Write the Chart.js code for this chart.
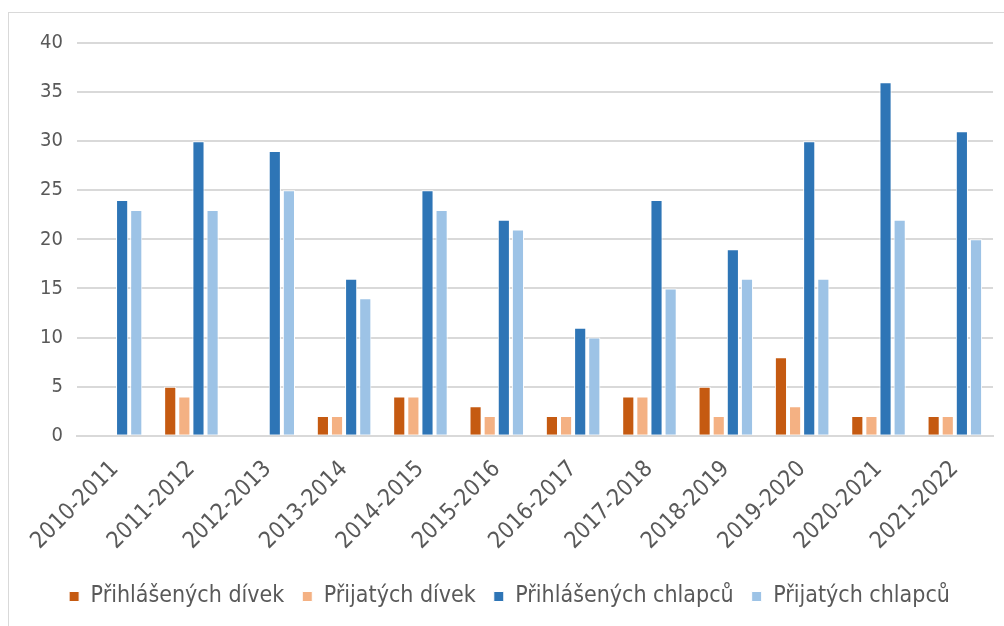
<!DOCTYPE html>
<html>
<head>
<meta charset="utf-8">
<script src="https://cdn.jsdelivr.net/npm/chart.js@4/dist/chart.umd.min.js"></script>
<style>
  html, body { margin: 0; padding: 0; background: #fff; }
  #frame {
    position: absolute; left: 8px; top: 12px; width: 1010px; height: 630px;
    border: 1px solid #d9d9d9; box-sizing: border-box;
  }
  #wrap { position: absolute; left: 8px; top: 12px; width: 996px; height: 610px; }
</style>
</head>
<body>
<div id="frame"></div>
<div id="wrap"><canvas id="chart"></canvas></div>
<script>
  const years = ["2010-2011", "2011-2012", "2012-2013", "2013-2014", "2014-2015", "2015-2016",
    "2016-2017", "2017-2018", "2018-2019", "2019-2020", "2020-2021", "2021-2022"];
  const girlsApplied = [0, 5, 0, 2, 4, 3, 2, 4, 5, 8, 2, 2];
  const girlsAccepted = [0, 4, 0, 2, 4, 2, 2, 4, 2, 3, 2, 2];
  const boysApplied = [24, 30, 29, 16, 25, 22, 11, 24, 19, 30, 36, 31];
  const boysAccepted = [23, 23, 25, 14, 23, 21, 10, 15, 16, 16, 22, 20];

  const font = "'Liberation Sans Narrow', 'DejaVu Sans Condensed', sans-serif";
  const textColor = "#595959";

  function ds(label, data, color) {
    return { label, data, backgroundColor: color, borderColor: "#ffffff", borderWidth: 1,
      categoryPercentage: 0.74, barPercentage: 0.86 };
  }

  new Chart(document.getElementById("chart"), {
    type: "bar",
    data: {
      labels: years,
      datasets: [
        ds("Přihlášených dívek", girlsApplied, "#c55a11"),
        ds("Přijatých dívek", girlsAccepted, "#f4b183"),
        ds("Přihlášených chlapců", boysApplied, "#2e75b6"),
        ds("Přijatých chlapců", boysAccepted, "#9dc3e6"),
      ],
    },
    options: {
      responsive: true,
      maintainAspectRatio: false,
      animation: false,
      layout: { padding: { left: 18, right: 11, top: 31, bottom: 4 } },
      plugins: {
        legend: {
          position: "bottom",
          labels: { boxWidth: 10, boxHeight: 10, padding: 18, color: textColor,
            font: { family: font, size: 23 } },
        },
        tooltip: { enabled: false },
      },
      scales: {
        x: {
          grid: { display: false },
          border: { display: true, color: "#d9d9d9", width: 2 },
          ticks: { color: textColor, maxRotation: 45, minRotation: 45, autoSkip: false, padding: 12,
            font: { family: font, size: 23 } },
        },
        y: {
          min: 0, max: 40,
          ticks: { stepSize: 5, color: textColor, padding: 14, font: { family: font, size: 20 } },
          grid: { color: "#d9d9d9", lineWidth: 2, drawTicks: false },
          border: { display: false },
        },
      },
    },
  });
</script>
</body>
</html>
